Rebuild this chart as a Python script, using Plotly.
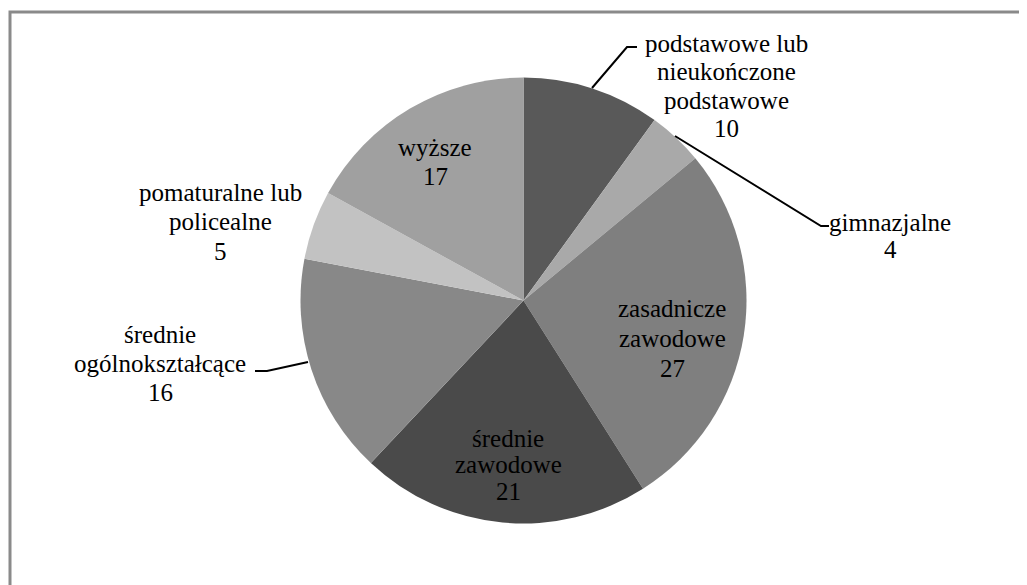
import plotly.graph_objects as go

W, H = 1027, 585
OFF = 8  # page body margin offset

categories = [
    "podstawowe lub nieukończone podstawowe",
    "gimnazjalne",
    "zasadnicze zawodowe",
    "średnie zawodowe",
    "średnie ogólnokształcące",
    "pomaturalne lub policealne",
    "wyższe",
]
values = [10, 4, 27, 21, 16, 5, 17]
label_lines = [
    ["podstawowe lub", "nieukończone", "podstawowe"],
    ["gimnazjalne"],
    ["zasadnicze", "zawodowe"],
    ["średnie", "zawodowe"],
    ["średnie", "ogólnokształcące"],
    ["pomaturalne lub", "policealne"],
    ["wyższe"],
]
colors = ["#595959", "#a9a9a9", "#7f7f7f", "#4a4a4a", "#888888", "#c2c2c2", "#a0a0a0"]

# label layout in pixels: (center x, first-line y, line step)
label_pos = [(726, 43, 28.5), (890, 222, 28), (672, 308, 30), (508, 438, 26.5),
             (160, 334, 29), (220, 192, 29.5), (435, 147, 29)]


def px(x):
    return (x - OFF) / W


def py(y):
    return 1 - (y - OFF) / H


FONT = "Liberation Serif"

fig = go.Figure()
cx, cy, r = 523.5, 300.5, 223
fig.add_trace(go.Pie(
    labels=categories,
    values=values,
    sort=False,
    direction="clockwise",
    rotation=0,
    textinfo="none",
    hoverinfo="label+value",
    marker=dict(colors=colors, line=dict(width=0)),
    domain=dict(x=[px(cx - r), px(cx + r)], y=[py(cy + r), py(cy - r)]),
    showlegend=False,
))

annotations = []
for lines, v, (x, y0, step) in zip(label_lines, values, label_pos):
    for i, t in enumerate(lines + [str(v)]):
        annotations.append(dict(
            x=px(x), y=py(y0 + i * step), xref="paper", yref="paper",
            text=t, showarrow=False, xanchor="center", yanchor="middle",
            font=dict(family=FONT, size=25, color="black"),
        ))

leaders = [
    [(592, 88), (627, 47), (637, 47)],
    [(675, 136), (821, 226), (829, 226)],
    [(308, 362), (267, 371), (255, 371)],
]
shapes = []
for pts in leaders:
    path = "M " + " L ".join(f"{px(a):.5f},{py(b):.5f}" for a, b in pts)
    shapes.append(dict(type="path", path=path, xref="paper", yref="paper",
                       line=dict(color="black", width=2)))

# chart frame
shapes.append(dict(type="rect", xref="paper", yref="paper",
                   x0=px(10), y0=py(620), x1=px(1060), y1=py(12),
                   line=dict(color="#8a8a8a", width=3)))

fig.update_layout(
    width=W, height=H,
    margin=dict(l=0, r=0, t=0, b=0),
    paper_bgcolor="white",
    plot_bgcolor="white",
    annotations=annotations,
    shapes=shapes,
    font=dict(family=FONT),
)

fig.write_html("out.html")
